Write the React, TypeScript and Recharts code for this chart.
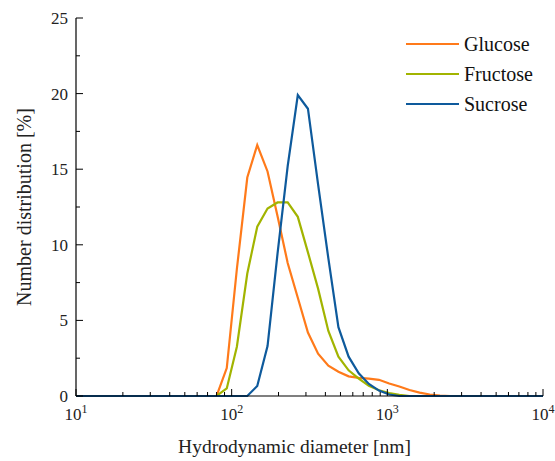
import React from "react";
import { LineChart, Line, XAxis, YAxis } from "recharts";

const SIZES = [10, 69, 80, 93, 108, 126, 146, 170, 197, 229, 266, 309, 359, 418, 485, 564, 655, 761, 884, 1028, 1194, 1388, 1612, 1874, 2177, 2529, 2939, 10000];
const GLUCOSE = [0, 0, 0, 1.85, 8.4, 14.45, 16.6, 14.85, 11.9, 8.8, 6.5, 4.2, 2.8, 2.0, 1.6, 1.3, 1.2, 1.15, 1.07, 0.83, 0.63, 0.4, 0.22, 0.1, 0.03, 0, 0, 0];
const FRUCTOSE = [0, 0, 0, 0.5, 3.26, 8.1, 11.2, 12.4, 12.8, 12.8, 11.85, 9.5, 7.1, 4.3, 2.6, 1.7, 1.15, 0.68, 0.38, 0.2, 0.07, 0, 0, 0, 0, 0, 0, 0];
const SUCROSE = [0, 0, 0, 0, 0, 0, 0.66, 3.3, 9.4, 15.2, 19.9, 19.0, 14.0, 9.1, 4.55, 2.6, 1.5, 0.8, 0.36, 0.1, 0, 0, 0, 0, 0, 0, 0, 0];

const X_TICKS = [10, 20, 30, 40, 50, 60, 70, 80, 90, 100, 200, 300, 400, 500, 600, 700, 800, 900, 1000, 2000, 3000, 4000, 5000, 6000, 7000, 8000, 9000, 10000];
const Y_TICKS = [0, 2.5, 5, 7.5, 10, 12.5, 15, 17.5, 20, 22.5, 25];

const SERIES = [
  { key: "Glucose", color: "#FF7A1A" },
  { key: "Fructose", color: "#A2B400" },
  { key: "Sucrose", color: "#0E5A9C" },
];

const data = SIZES.map((d, i) => ({ d, Glucose: GLUCOSE[i], Fructose: FRUCTOSE[i], Sucrose: SUCROSE[i] }));

const FONT = "'Liberation Serif', serif";

const XTick = (props: any) => {
  const { x, y, payload } = props;
  const e = Math.log10(payload.value);
  const major = Math.abs(e - Math.round(e)) < 1e-6;
  return (
    <g>
      <line x1={x} x2={x} y1={y} y2={y - (major ? 7 : 4)} stroke="#000" strokeWidth={1} />
      {major && (
        <text x={x} y={y + 24} textAnchor="middle" fontFamily={FONT} fontSize={17} fill="#222">
          10
          <tspan dy={-7} fontSize={12}>{Math.round(e)}</tspan>
        </text>
      )}
    </g>
  );
};

const YTick = (props: any) => {
  const { x, y, payload } = props;
  const major = payload.value % 5 === 0;
  return (
    <g>
      <line x1={x} x2={x + (major ? 7 : 4)} y1={y} y2={y} stroke="#000" strokeWidth={1} />
      {major && (
        <text x={x - 8} y={y + 6} textAnchor="end" fontFamily={FONT} fontSize={17} fill="#222">
          {payload.value}
        </text>
      )}
    </g>
  );
};

export default function App() {
  return (
    <div style={{ position: "absolute", left: 0, top: 0, width: 555, height: 461, background: "#fff" }}>
      <LineChart width={555} height={461} data={data} margin={{ top: 18, right: 12, left: 16, bottom: 0 }}>
        <XAxis
          dataKey="d"
          type="number"
          scale="log"
          domain={[10, 10000]}
          ticks={X_TICKS}
          interval={0}
          height={65}
          tick={<XTick />}
          tickSize={0}
          tickMargin={0}
          tickLine={false}
          axisLine={{ stroke: "#000", strokeWidth: 1.2 }}
          allowDataOverflow
          label={{ value: "Hydrodynamic diameter [nm]", position: "insideBottom", offset: 8, dx: -15, fontFamily: FONT, fontSize: 19.5, fill: "#222" }}
        />
        <XAxis xAxisId="top" orientation="top" dataKey="d" type="number" scale="log" domain={[10, 10000]} height={0} tick={false} tickLine={false} axisLine={{ stroke: "#000", strokeWidth: 1.2 }} />
        <YAxis
          type="number"
          domain={[0, 25]}
          ticks={Y_TICKS}
          interval={0}
          width={60}
          tick={<YTick />}
          tickSize={0}
          tickMargin={0}
          tickLine={false}
          axisLine={{ stroke: "#000", strokeWidth: 1.2 }}
          label={{ value: "Number distribution [%]", angle: -90, position: "insideLeft", offset: 0, dx: 8, style: { textAnchor: "middle" }, fontFamily: FONT, fontSize: 20, fill: "#222" }}
        />
        <YAxis yAxisId="right" orientation="right" domain={[0, 25]} width={0} tick={false} tickLine={false} axisLine={{ stroke: "#000", strokeWidth: 1.2 }} />
        {SERIES.map((s) => (
          <Line key={s.key} dataKey={s.key} stroke={s.color} strokeWidth={2.2} dot={false} isAnimationActive={false} />
        ))}
      </LineChart>
      <div style={{ position: "absolute", top: 29, left: 406, fontFamily: FONT, fontSize: 20, color: "#111" }}>
        {SERIES.map((s) => (
          <div key={s.key} style={{ display: "flex", alignItems: "center", height: 30 }}>
            <div style={{ width: 53, height: 2, background: s.color, marginRight: 5 }} />
            <span>{s.key}</span>
          </div>
        ))}
      </div>
    </div>
  );
}
